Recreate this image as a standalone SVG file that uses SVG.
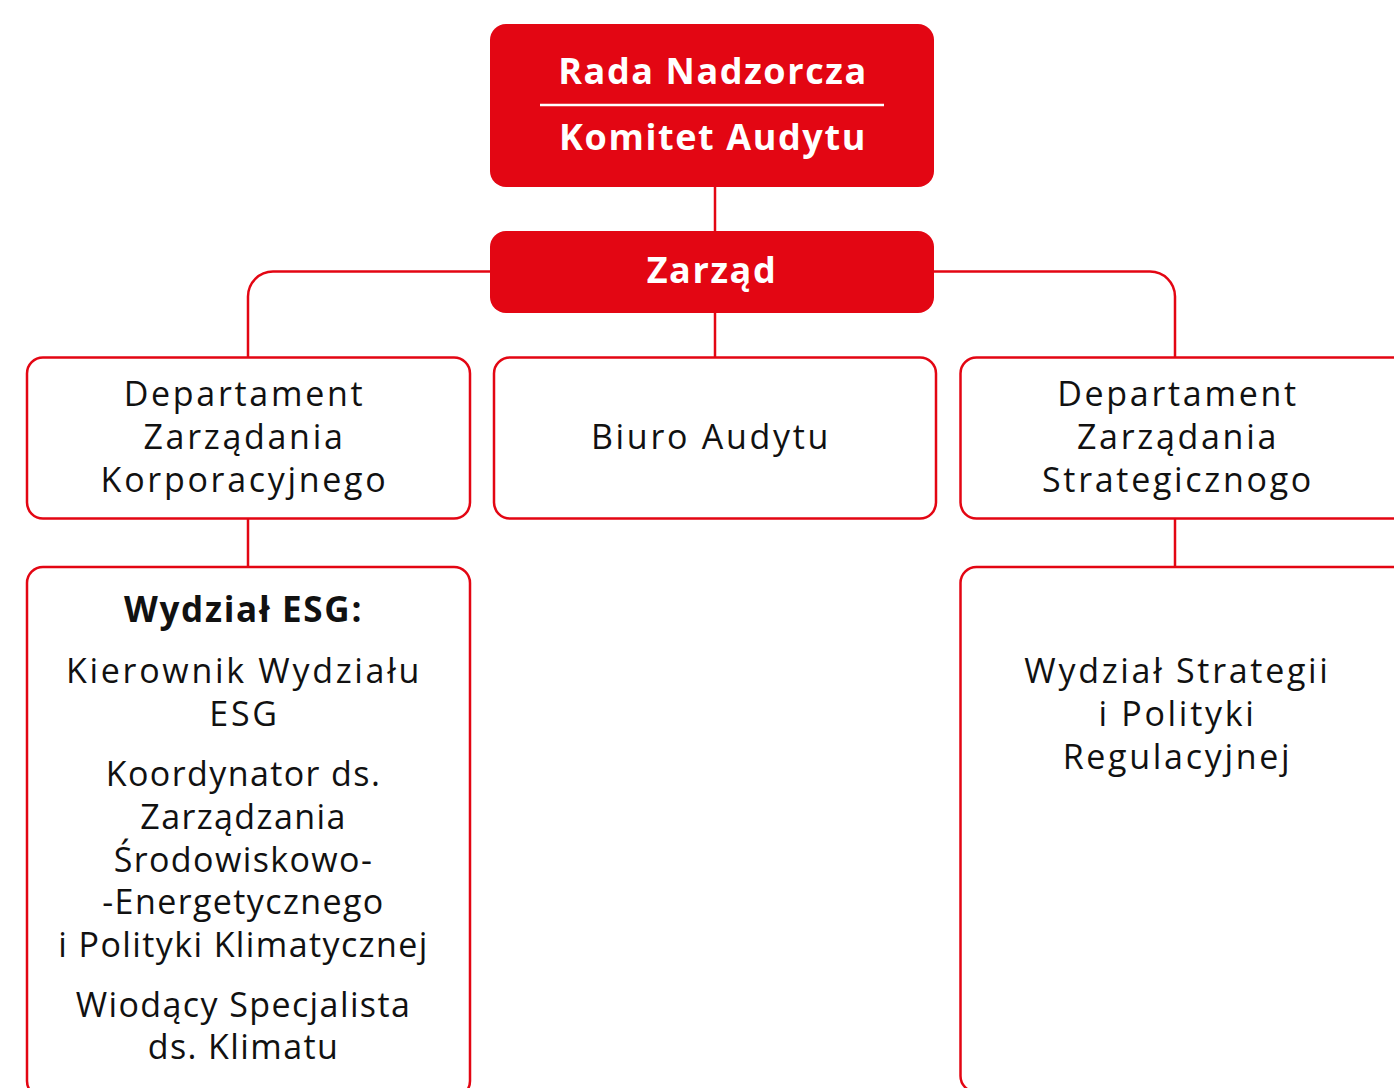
<svg xmlns="http://www.w3.org/2000/svg" width="1394" height="1088" viewBox="0 0 1394 1088">
<style>
.red{fill:#E30613}
.box{fill:#fff;stroke:#E30613;stroke-width:2.5}
.con{fill:none;stroke:#E30613;stroke-width:2.5}
.t{font-family:"Open Sans","Noto Sans","Liberation Sans",sans-serif;font-size:34px;fill:#111;text-anchor:middle;letter-spacing:2.7px}
.n{letter-spacing:1.4px}
.b{font-weight:bold;font-size:35px;letter-spacing:1.7px}
.w{font-family:"Open Sans","Noto Sans","Liberation Sans",sans-serif;font-size:36px;font-weight:bold;fill:#fff;text-anchor:middle;letter-spacing:1.6px}
</style>
<rect width="1394" height="1088" fill="#fff"/>
<g id="connectors">
<line class="con" x1="715" y1="186" x2="715" y2="232"/>
<line class="con" x1="715" y1="312" x2="715" y2="358"/>
<path class="con" d="M491 271.5 H273 A25 25 0 0 0 248 296.5 V358"/>
<path class="con" d="M933 271.5 H1150 A25 25 0 0 1 1175 296.5 V358"/>
<line class="con" x1="248" y1="518" x2="248" y2="567"/>
<line class="con" x1="1175" y1="518" x2="1175" y2="567"/>
</g>
<g id="rada">
<rect class="red" x="490" y="24" width="444" height="163" rx="16"/>
<line x1="540" y1="105" x2="884" y2="105" stroke="#fff" stroke-width="2.5"/>
<text class="w" x="713" y="84">Rada Nadzorcza</text>
<text class="w" x="713" y="150">Komitet Audytu</text>
</g>
<g id="zarzad">
<rect class="red" x="490" y="231" width="444" height="82" rx="16"/>
<text class="w" x="712" y="283">Zarząd</text>
</g>
<g id="dzk">
<rect class="box" x="27" y="357.5" width="443" height="161" rx="16"/>
<text class="t" x="244.5" y="406">Departament</text>
<text class="t" x="244.5" y="449">Zarządania</text>
<text class="t" x="244.5" y="492">Korporacyjnego</text>
</g>
<g id="biuro">
<rect class="box" x="494" y="357.5" width="442" height="161" rx="16"/>
<text class="t" x="711" y="449">Biuro Audytu</text>
</g>
<g id="dzs">
<rect class="box" x="960.5" y="357.5" width="460" height="161" rx="16"/>
<text class="t" x="1178" y="406">Departament</text>
<text class="t" x="1178" y="449">Zarządania</text>
<text class="t" x="1178" y="492">Strategicznogo</text>
</g>
<g id="esg">
<rect class="box" x="27" y="567" width="443" height="530" rx="16"/>
<text class="t b" x="243.5" y="622">Wydział ESG:</text>
<text class="t" x="244" y="683">Kierownik Wydziału</text>
<text class="t" x="244.5" y="726">ESG</text>
<text class="t n" x="243.5" y="786">Koordynator ds.</text>
<text class="t n" x="243.5" y="829">Zarządzania</text>
<text class="t n" x="243.5" y="872">Środowiskowo-</text>
<text class="t n" x="243.5" y="914">-Energetycznego</text>
<text class="t n" x="243.5" y="957">i Polityki Klimatycznej</text>
<text class="t n" x="243.5" y="1017">Wiodący Specjalista</text>
<text class="t n" x="243.5" y="1059">ds. Klimatu</text>
</g>
<g id="wsp">
<rect class="box" x="960.5" y="567" width="460" height="525" rx="16"/>
<text class="t" x="1177.5" y="683">Wydział Strategii</text>
<text class="t" x="1177.5" y="726">i Polityki</text>
<text class="t" x="1177.5" y="769">Regulacyjnej</text>
</g>
</svg>
